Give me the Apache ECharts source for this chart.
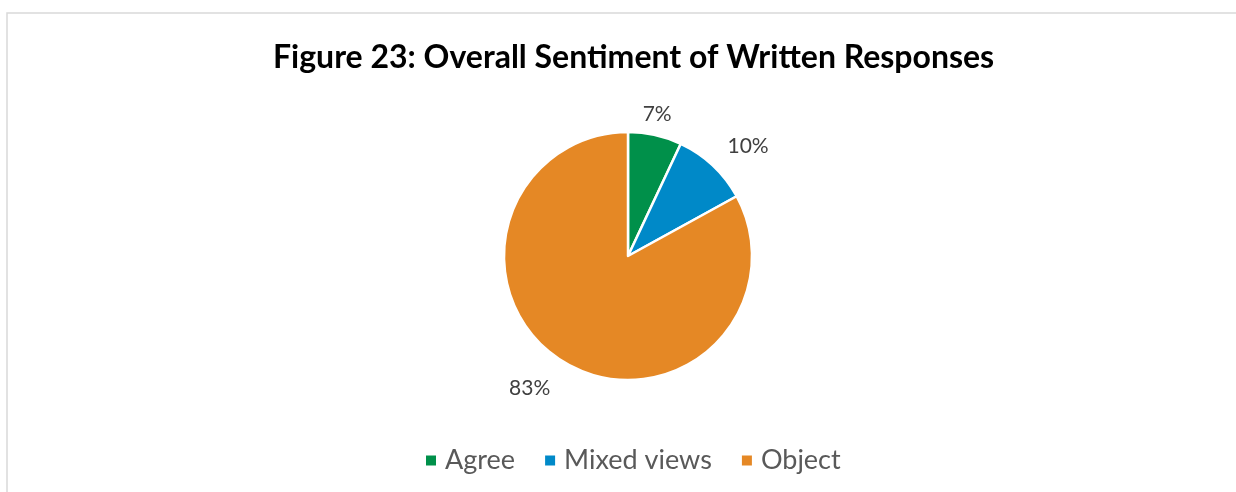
<!DOCTYPE html>
<html>
<head>
<meta charset="utf-8">
<script src="https://cdn.jsdelivr.net/npm/echarts@6/dist/echarts.min.js"></script>
<style>
  html, body { margin: 0; padding: 0; background: #fff; }
  #chart { width: 1236px; height: 492px; }
</style>
</head>
<body>
<div id="chart"></div>
<script>
// Sentiment categories and their share of written responses (%)
const categories = ['Agree', 'Mixed views', 'Object'];
const shares = [7, 10, 83];
const colors = ['#00904A', '#0089C8', '#E58825'];

// small nudges so each percentage sits where a spreadsheet would put it
const labelNudge = [[-9, 7], [11, 1], [-16, 1]];

const chart = echarts.init(document.getElementById('chart'), null, { renderer: 'canvas' });

chart.setOption({
  backgroundColor: '#ffffff',
  animation: false,
  color: colors,
  title: {
    text: 'Figure 23: Overall Sentiment of Written Responses',
    left: 268,
    top: 37,
    textStyle: {
      fontFamily: 'Lato',
      fontWeight: 'bold',
      fontSize: 32,
      color: '#000000'
    }
  },
  graphic: [{
    type: 'rect',
    shape: { x: 7, y: 13, width: 1240, height: 500 },
    style: { fill: 'none', stroke: '#d9d9d9', lineWidth: 1.5 },
    silent: true
  }],
  legend: {
    bottom: 13,
    left: 419,
    icon: 'rect',
    itemWidth: 12,
    itemHeight: 12,
    itemGap: 28,
    textStyle: { fontFamily: 'Lato', fontSize: 27, color: '#595959', padding: [0, 0, 0, 3] },
    data: categories
  },
  series: [{
    type: 'pie',
    center: [628, 256],
    radius: 124,
    startAngle: 90,
    clockwise: true,
    itemStyle: { borderColor: '#ffffff', borderWidth: 2.5 },
    label: {
      show: true,
      position: 'outside',
      formatter: '{c}%',
      fontFamily: 'Lato',
      fontSize: 21,
      color: '#404040'
    },
    labelLine: { show: false, length: 28, length2: 0 },
    labelLayout: function (params) {
      const n = labelNudge[params.dataIndex];
      return { align: 'center', verticalAlign: 'middle', dx: n[0], dy: n[1] };
    },
    data: categories.map((name, i) => ({ name: name, value: shares[i] }))
  }]
});
</script>
</body>
</html>
